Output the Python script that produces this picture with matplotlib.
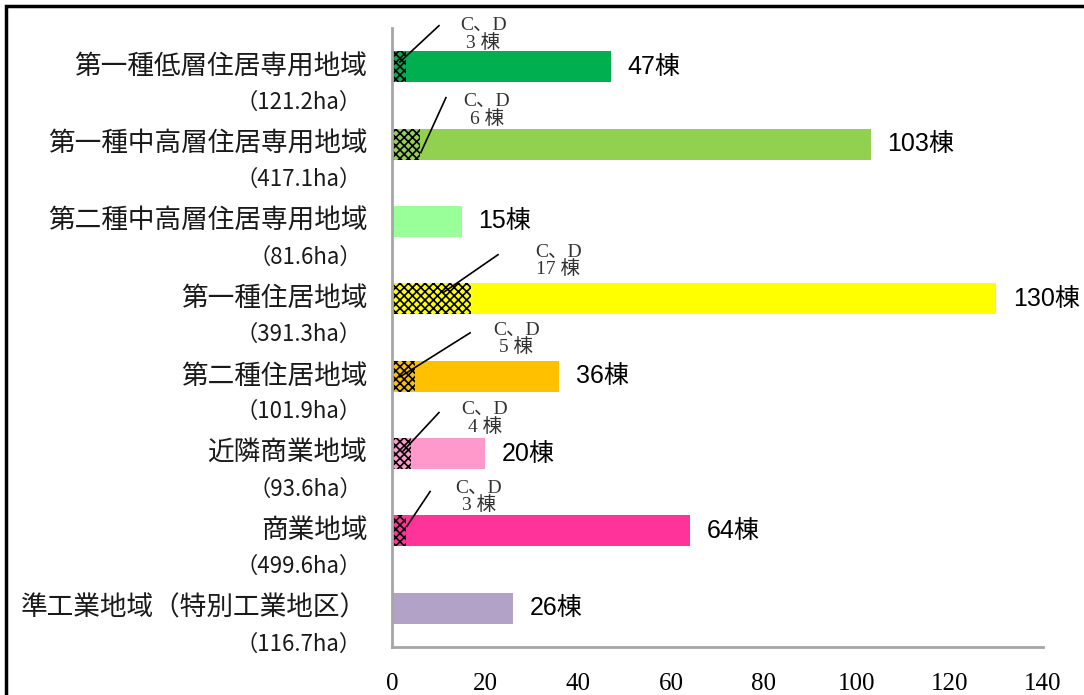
import matplotlib.pyplot as plt
from matplotlib.patches import Rectangle


""" Data """
zones = ['第一種低層住居専用地域', '第一種中高層住居専用地域', '第二種中高層住居専用地域',
         '第一種住居地域', '第二種住居地域', '近隣商業地域', '商業地域',
         '準工業地域（特別工業地区）']
areas = ['（121.2ha）', '（417.1ha）', '（81.6ha）', '（391.3ha）',
         '（101.9ha）', '（93.6ha）', '（499.6ha）', '（116.7ha）']
buildings = [47, 103, 15, 130, 36, 20, 64, 26]
cdBuildings = [3, 6, 0, 17, 5, 4, 3, 0]
colors = ['#00B050', '#92D050', '#99FF99', '#FFFF00', '#FFC000', '#FF99CC', '#FF3399', '#B3A2C7']
xticks = [0, 20, 40, 60, 80, 100, 120, 140]

# where the "C、D" note sits: (text x, text dy, line x0, line dy0, line x1, line dy1)
notePos = [(19.6, -0.42, 1.7, -0.06, 10.1, -0.53),
           (20.4, -0.43, 6.2, 0.11, 11.6, -0.60),
           None,
           (35.8, -0.49, 11.0, -0.08, 22.8, -0.57),
           (26.7, -0.48, 1.7, 0.01, 16.8, -0.56),
           (20.0, -0.45, 2.2, -0.02, 10.1, -0.53),
           (18.7, -0.44, 3.2, -0.06, 8.2, -0.51),
           None]


plt.rcParams['font.family'] = ['Noto Sans CJK JP', 'DejaVu Sans']
plt.rcParams['hatch.linewidth'] = 1.2

fig = plt.figure(figsize=(10.84, 6.95), dpi=100)
ax = fig.add_axes([392 / 1084, 1 - 647 / 695, 651 / 1084, 619 / 695])

pos = list(range(len(zones)))
ax.barh(pos, buildings, height=0.40, color=colors, linewidth=0)
ax.barh(pos, cdBuildings, height=0.40, color=colors, edgecolor='black',
        hatch='xxxx', linewidth=0)

for i in pos:
    ax.annotate(f'{buildings[i]}棟', xy=(buildings[i], i), xytext=(12, 0),
                textcoords='offset points', va='center', ha='left', fontsize=18,
                family=['Liberation Sans', 'Noto Sans CJK JP'])
    ax.text(-0.038, i, zones[i], transform=ax.get_yaxis_transform(),
            ha='right', va='center', fontsize=19.2, color='#1a1a1a')
    ax.text(-0.046, i + 0.46, areas[i], transform=ax.get_yaxis_transform(),
            ha='right', va='center', fontsize=16, color='#1a1a1a')

    if notePos[i] is None:
        continue
    tx, tdy, x0, dy0, x1, dy1 = notePos[i]
    ax.plot([x0, x1], [i + dy0, i + dy1], color='black', lw=1.2, clip_on=False)
    ax.text(tx, i + tdy, f'C、D\n{cdBuildings[i]} 棟', ha='center', va='center',
            fontsize=14, linespacing=1.0, color='#333333',
            family=['Liberation Serif', 'Noto Sans CJK JP'])

ax.set_xlim(0, 140)
ax.set_ylim(7.5, -0.5)
ax.set_xticks(xticks)
ax.set_xticklabels([str(t) for t in xticks], family='Liberation Serif', fontsize=18)
ax.set_yticks([])
ax.tick_params(axis='x', length=0, pad=19)

for side in ['top', 'right']:
    ax.spines[side].set_visible(False)
for side in ['left', 'bottom']:
    ax.spines[side].set_color('#A6A6A6')
    ax.spines[side].set_linewidth(2)

# outer frame of the chart
fig.add_artist(Rectangle((6 / 1084, -0.1), 1.2, 1.1 - 6 / 695, transform=fig.transFigure,
                         fill=False, edgecolor='black', linewidth=2.5, clip_on=False))

fig.savefig('out.png', dpi=100)
